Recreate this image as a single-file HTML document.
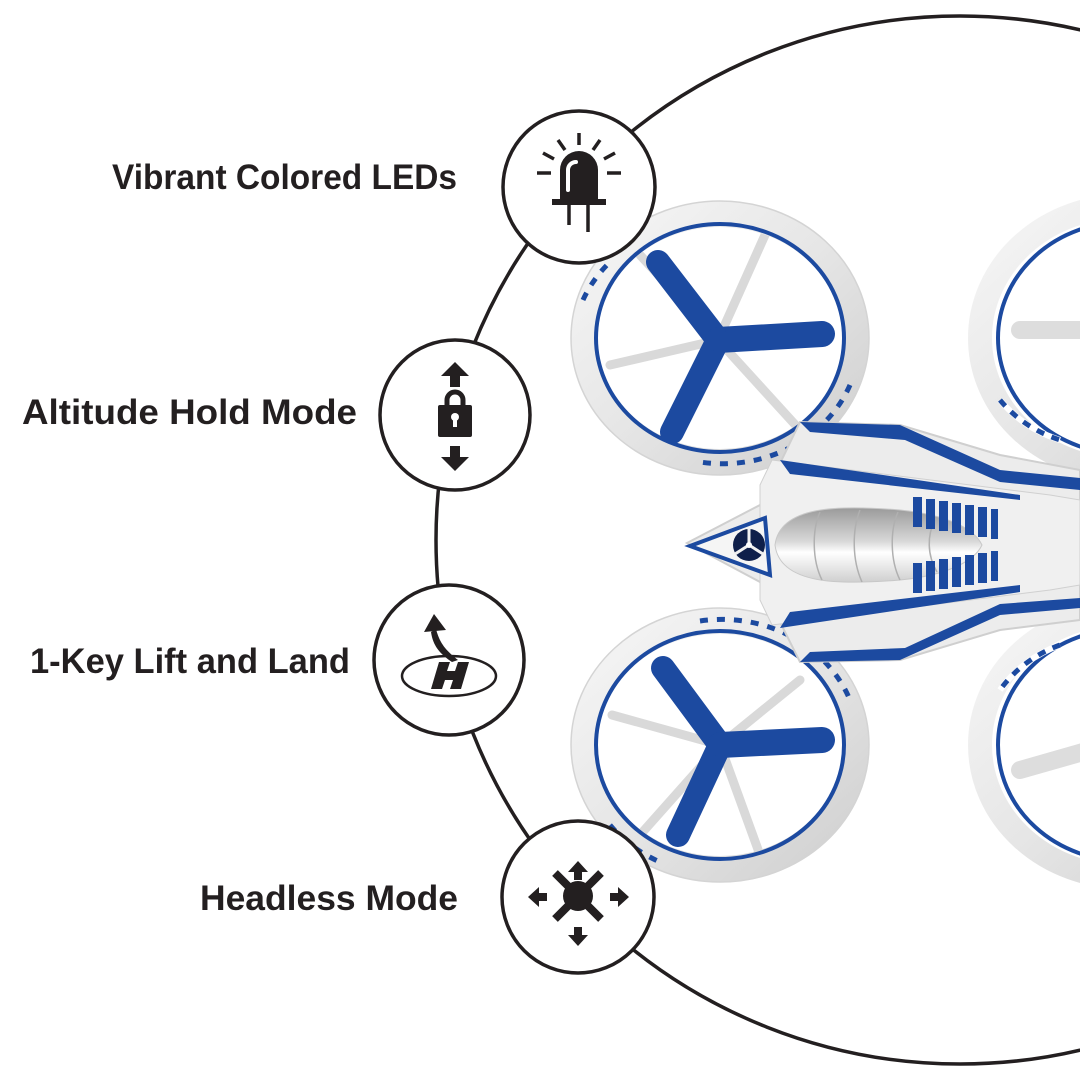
<!DOCTYPE html>
<html><head><meta charset="utf-8"><style>
html,body{margin:0;padding:0;background:#fff}
svg{display:block}
text{font-family:"Liberation Sans",sans-serif;font-weight:bold;fill:#231f20}
</style></head><body>
<svg width="1080" height="1080" viewBox="0 0 1080 1080" xmlns="http://www.w3.org/2000/svg">
<defs>
<linearGradient id="ring" x1="0" y1="0" x2="1" y2="1">
<stop offset="0" stop-color="#f6f6f6"/><stop offset="0.5" stop-color="#e6e6e6"/><stop offset="1" stop-color="#cfcfcf"/></linearGradient>
<linearGradient id="canopy" x1="0" y1="0" x2="0" y2="1">
<stop offset="0" stop-color="#9a9a9a"/><stop offset="0.45" stop-color="#d8d8d8"/><stop offset="0.6" stop-color="#ffffff"/><stop offset="1" stop-color="#cfcfcf"/></linearGradient>
</defs>
<circle cx="960" cy="540" r="524" fill="none" stroke="#231f20" stroke-width="3.5"/>

<!-- right rings -->
<g>
<ellipse cx="1125" cy="338" rx="145" ry="132" fill="none" stroke="url(#ring)" stroke-width="24"/>
<ellipse cx="1125" cy="338" rx="127" ry="116" fill="none" stroke="#1c4aa0" stroke-width="4"/>
<path d="M1000,400 A127,116 0 0 0 1060,440" fill="none" stroke="#fff" stroke-width="6"/>
<path d="M1000,400 A127,116 0 0 0 1060,440" fill="none" stroke="#1c4aa0" stroke-width="5" stroke-dasharray="8 8"/>
<line x1="1020" y1="330" x2="1090" y2="330" stroke="#ddd" stroke-width="18" stroke-linecap="round"/>
<ellipse cx="1125" cy="745" rx="145" ry="132" fill="none" stroke="url(#ring)" stroke-width="24"/>
<ellipse cx="1125" cy="745" rx="127" ry="116" fill="none" stroke="#1c4aa0" stroke-width="4"/>
<path d="M1060,645 A127,116 0 0 0 1000,690" fill="none" stroke="#fff" stroke-width="6"/>
<path d="M1060,645 A127,116 0 0 0 1000,690" fill="none" stroke="#1c4aa0" stroke-width="5" stroke-dasharray="8 8"/>
<line x1="1020" y1="770" x2="1090" y2="750" stroke="#ddd" stroke-width="18" stroke-linecap="round"/>
</g>
<!-- top-left rotor -->
<g>
<g stroke="#d9d9d9" stroke-width="9" stroke-linecap="round">
<line x1="718" y1="340" x2="765" y2="235"/><line x1="718" y1="340" x2="610" y2="365"/><line x1="718" y1="340" x2="800" y2="430"/><line x1="718" y1="340" x2="640" y2="255"/>
</g>
<ellipse cx="720" cy="338" rx="136" ry="124" fill="none" stroke="url(#ring)" stroke-width="26"/>
<ellipse cx="720" cy="338" rx="149" ry="137" fill="none" stroke="#d4d4d4" stroke-width="1.5"/>
<ellipse cx="720" cy="338" rx="124" ry="114" fill="none" stroke="#1c4aa0" stroke-width="4"/>
<path d="M583,300 A137,125 0 0 1 610,262" fill="none" stroke="#1c4aa0" stroke-width="5" stroke-dasharray="8 9"/>
<path d="M850,385 A137,125 0 0 1 700,462" fill="none" stroke="#1c4aa0" stroke-width="5" stroke-dasharray="8 9"/>
<g fill="#1c4aa0" stroke="#1c4aa0" stroke-linecap="round">
<line x1="718" y1="340" x2="658" y2="262" stroke-width="24"/>
<line x1="718" y1="340" x2="822" y2="334" stroke-width="26"/>
<line x1="718" y1="340" x2="672" y2="432" stroke-width="24"/>
<circle cx="718" cy="340" r="12"/>
</g>
</g>
<!-- bottom-left rotor -->
<g>
<g stroke="#d9d9d9" stroke-width="9" stroke-linecap="round">
<line x1="720" y1="745" x2="612" y2="715"/><line x1="720" y1="745" x2="760" y2="855"/><line x1="720" y1="745" x2="800" y2="680"/><line x1="720" y1="745" x2="640" y2="835"/>
</g>
<ellipse cx="720" cy="745" rx="136" ry="124" fill="none" stroke="url(#ring)" stroke-width="26"/>
<ellipse cx="720" cy="745" rx="149" ry="137" fill="none" stroke="#d4d4d4" stroke-width="1.5"/>
<ellipse cx="720" cy="745" rx="124" ry="114" fill="none" stroke="#1c4aa0" stroke-width="4"/>
<path d="M700,621 A137,125 0 0 1 850,700" fill="none" stroke="#1c4aa0" stroke-width="5" stroke-dasharray="8 9"/>
<path d="M610,825 A137,125 0 0 0 660,862" fill="none" stroke="#1c4aa0" stroke-width="5" stroke-dasharray="8 9"/>
<g fill="#1c4aa0" stroke="#1c4aa0" stroke-linecap="round">
<line x1="720" y1="745" x2="663" y2="668" stroke-width="24"/>
<line x1="720" y1="745" x2="822" y2="740" stroke-width="26"/>
<line x1="720" y1="745" x2="678" y2="835" stroke-width="24"/>
<circle cx="720" cy="745" r="12"/>
</g>
</g>
<!-- body -->
<g>
<path d="M687,543 L760,505 L800,422 L900,425 L1000,455 L1080,470 L1080,620 L1000,630 L900,660 L800,662 L760,582 Z" fill="#ececec" stroke="#cfcfcf" stroke-width="2"/>
<path d="M800,422 L900,425 L1000,470 L1080,478 L1080,490 L1000,482 L905,440 L810,432 Z" fill="#1c4aa0"/>
<path d="M800,662 L900,660 L1000,615 L1080,608 L1080,598 L1000,604 L905,648 L810,652 Z" fill="#1c4aa0"/>
<path d="M772,460 L1050,495 L1080,500 L1080,585 L1050,590 L772,625 L760,600 L760,485 Z" fill="#f0f0f0" stroke="#d0d0d0"/>
<path d="M780,460 L1020,495 L1020,500 L790,474 Z" fill="#1c4aa0"/>
<path d="M790,612 L1020,585 L1020,592 L780,628 Z" fill="#1c4aa0"/>
<path d="M690,546 L765,518 L770,575 Z" fill="#f5f5f5" stroke="#1c4aa0" stroke-width="4"/>
<path d="M775,545 C780,505 840,505 900,510 C950,515 975,530 982,545 C975,560 950,575 900,580 C840,585 780,585 775,545 Z" fill="url(#canopy)" stroke="#c8c8c8"/>
<g stroke="#b0b0b0" fill="none" stroke-width="1.5"><path d="M820,512 C812,530 812,560 822,580"/><path d="M860,510 C852,530 852,560 862,582"/><path d="M898,512 C890,530 890,560 900,580"/><path d="M935,520 C927,535 927,555 937,572"/></g>
<g fill="#1c4aa0">
<rect x="913" y="497" width="9" height="30"/><rect x="926" y="499" width="9" height="30"/><rect x="939" y="501" width="9" height="30"/><rect x="952" y="503" width="9" height="30"/><rect x="965" y="505" width="9" height="30"/><rect x="978" y="507" width="9" height="30"/><rect x="991" y="509" width="7" height="30"/>
<rect x="913" y="563" width="9" height="30"/><rect x="926" y="561" width="9" height="30"/><rect x="939" y="559" width="9" height="30"/><rect x="952" y="557" width="9" height="30"/><rect x="965" y="555" width="9" height="30"/><rect x="978" y="553" width="9" height="30"/><rect x="991" y="551" width="7" height="30"/>
</g>
<circle cx="749" cy="545" r="16" fill="#0f1f4a"/>
<g stroke="#f0f0f0" stroke-width="3"><line x1="749" y1="545" x2="749" y2="528"/><line x1="749" y1="545" x2="735" y2="554"/><line x1="749" y1="545" x2="763" y2="554"/></g>
<circle cx="749" cy="545" r="3" fill="#fff"/>
</g>

<g fill="#fff" stroke="#231f20" stroke-width="3.5">
<circle cx="579" cy="187" r="76"/>
<circle cx="455" cy="415" r="75"/>
<circle cx="449" cy="660" r="75"/>
<circle cx="578" cy="897" r="76"/>
</g>
<g fill="#231f20" stroke="#231f20">
<path d="M560,203 L560,170 A19,19 0 0 1 598,170 L598,203 Z" stroke="none"/>
<rect x="552" y="199" width="54" height="6" stroke="none"/>
<line x1="569" y1="205" x2="569" y2="225" stroke-width="3.5"/>
<line x1="588" y1="205" x2="588" y2="232" stroke-width="3.5"/>
<path d="M568,190 L568,170 A8,8 0 0 1 576,162" fill="none" stroke="#fff" stroke-width="4" stroke-linecap="round"/>
<g stroke-width="3.5"><line x1="579" y1="133" x2="579" y2="145"/><line x1="558" y1="140" x2="565" y2="150"/><line x1="600" y1="140" x2="593" y2="150"/><line x1="543" y1="153" x2="554" y2="159"/><line x1="615" y1="153" x2="604" y2="159"/><line x1="537" y1="173" x2="551" y2="173"/><line x1="607" y1="173" x2="621" y2="173"/></g>
</g>
<g fill="#231f20">
<path d="M455,362 L469,376 L460,376 L460,387 L450,387 L450,376 L441,376 Z"/>
<path d="M455,471 L469,457 L460,457 L460,446 L450,446 L450,457 L441,457 Z"/>
<path d="M447,405 L447,400 A8,8 0 0 1 463,400 L463,405" fill="none" stroke="#231f20" stroke-width="5"/>
<rect x="438" y="405" width="34" height="32" rx="2"/>
<circle cx="455" cy="417" r="4" fill="#fff"/><rect x="453" y="418" width="4" height="9" fill="#fff"/>
</g>
<g fill="#231f20">
<ellipse cx="449" cy="676" rx="47" ry="20" fill="none" stroke="#231f20" stroke-width="2.5"/>
<path d="M431,689 L439,662 L450,662 L447,671 L455,671 L458,662 L469,662 L461,689 L450,689 L453,680 L445,680 L442,689 Z"/>
<path d="M436,629 C440,645 448,652 458,660 L452,662 C440,654 433,646 431,632 Z"/>
<path d="M434,614 L446,630 L424,632 Z"/>
</g>
<g fill="#231f20">
<path d="M578,861 L588,872 L582,872 L582,880 L574,880 L574,872 L568,872 Z"/>
<path d="M578,946 L588,935 L582,935 L582,927 L574,927 L574,935 L568,935 Z"/>
<path d="M528,897 L539,887 L539,893 L547,893 L547,901 L539,901 L539,907 Z"/>
<path d="M629,897 L618,887 L618,893 L610,893 L610,901 L618,901 L618,907 Z"/>
<circle cx="578" cy="896" r="15"/>
<g stroke="#231f20" stroke-width="8"><line x1="555" y1="873" x2="601" y2="919"/><line x1="601" y1="873" x2="555" y2="919"/></g>
</g>
<text x="112" y="189" font-size="35" textLength="345" lengthAdjust="spacingAndGlyphs">Vibrant Colored LEDs</text>
<text x="22" y="424" font-size="35" textLength="335" lengthAdjust="spacingAndGlyphs">Altitude Hold Mode</text>
<text x="30" y="673" font-size="35" textLength="320" lengthAdjust="spacingAndGlyphs">1-Key Lift and Land</text>
<text x="200" y="910" font-size="35" textLength="258" lengthAdjust="spacingAndGlyphs">Headless Mode</text>
</svg>
</body></html>
